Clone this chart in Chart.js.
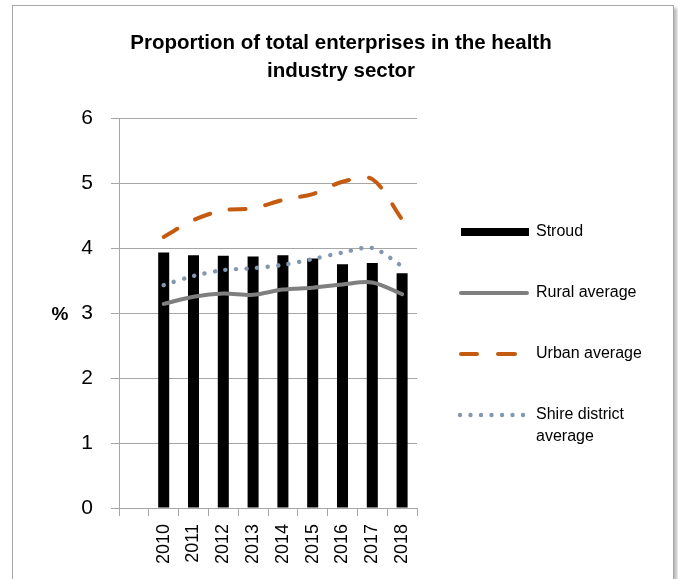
<!DOCTYPE html>
<html>
<head>
<meta charset="utf-8">
<script src="https://cdn.jsdelivr.net/npm/chart.js@4"></script>
<style>
  html, body { margin: 0; padding: 0; background: #fff; }
  #frame { position: absolute; left: 12px; top: 5px; width: 660px; height: 620px;
           border: 1px solid #a6a6a6; box-shadow: 3px 3px 3px #bbb; }
  #wrap { position: absolute; left: 0; top: 0; width: 678px; height: 579px; }
</style>
</head>
<body>
<div id="frame"></div>
<div id="wrap"><canvas id="c" width="678" height="579"></canvas></div>
<script>
// data
const years = ['', '2010', '2011', '2012', '2013', '2014', '2015', '2016', '2017', '2018'];
const stroud = [null, 3.93, 3.89, 3.88, 3.87, 3.89, 3.84, 3.75, 3.77, 3.61];
const rural  = [null, 3.14, 3.25, 3.30, 3.28, 3.36, 3.39, 3.44, 3.47, 3.29];
const urban  = [null, 4.17, 4.43, 4.58, 4.61, 4.74, 4.83, 5.02, 5.06, 4.44];
const shire  = [null, 3.43, 3.57, 3.66, 3.69, 3.74, 3.83, 3.93, 4.00, 3.72];
const yTicks = [0, 1, 2, 3, 4, 5, 6];
const titleLines = ['Proportion of total enterprises in the health', 'industry sector'];

const gridColor = '#a6a6a6';
const font = '"Liberation Sans", Arial, sans-serif';

// title, legend and "%" label drawn by hand so they sit like the original
const sideLegend = {
  id: 'sideLegend',
  afterDraw(chart) {
    const ctx = chart.ctx;
    ctx.save();
    ctx.fillStyle = '#000';
    ctx.textBaseline = 'middle';

    ctx.font = 'bold 20.5px ' + font;
    ctx.textAlign = 'center';
    ctx.fillText(titleLines[0], 341, 43);
    ctx.fillText(titleLines[1], 341, 71);

    ctx.font = '16px ' + font;
    ctx.textAlign = 'left';
    const tx = 536;

    ctx.fillRect(461, 228, 68, 8);
    ctx.fillText('Stroud', tx, 232);

    ctx.lineCap = 'round';
    ctx.strokeStyle = '#7f7f7f';
    ctx.lineWidth = 4;
    ctx.beginPath(); ctx.moveTo(461, 293); ctx.lineTo(527, 293); ctx.stroke();
    ctx.fillText('Rural average', tx, 293);

    ctx.strokeStyle = '#c55a11';
    ctx.beginPath(); ctx.moveTo(461, 354); ctx.lineTo(477, 354); ctx.stroke();
    ctx.beginPath(); ctx.moveTo(498, 354); ctx.lineTo(515, 354); ctx.stroke();
    ctx.fillText('Urban average', tx, 354);

    ctx.fillStyle = '#8497b0';
    for (let x = 460; x <= 528; x += 10.5) {
      ctx.beginPath(); ctx.arc(x, 415, 2.2, 0, Math.PI * 2); ctx.fill();
    }
    ctx.fillStyle = '#000';
    ctx.fillText('Shire district', tx, 415);
    ctx.fillText('average', tx, 437);

    ctx.font = 'bold 19px ' + font;
    ctx.textAlign = 'center';
    ctx.fillText('%', 60, 315);
    ctx.restore();
  }
};

new Chart(document.getElementById('c'), {
  type: 'bar',
  data: {
    labels: years,
    datasets: [
      { type: 'line', label: 'Rural average', data: rural, borderColor: '#7f7f7f', borderWidth: 4,
        borderCapStyle: 'round', pointRadius: 0, tension: 0.3, order: 1 },
      { type: 'line', label: 'Urban average', data: urban, borderColor: '#c55a11', borderWidth: 4,
        borderDash: [16, 20], borderCapStyle: 'round', pointRadius: 0, tension: 0.3, order: 1 },
      { type: 'line', label: 'Shire district average', data: shire, borderColor: '#8497b0', borderWidth: 4.4,
        borderDash: [0.1, 10.5], borderCapStyle: 'round', pointRadius: 0, tension: 0.3, order: 1 },
      { label: 'Stroud', data: stroud, backgroundColor: '#000', barPercentage: 0.37,
        categoryPercentage: 1, order: 5 }
    ]
  },
  options: {
    responsive: false,
    animation: false,
    layout: { padding: { left: 0, right: 261, top: 118, bottom: 0 } },
    plugins: {
      legend: { display: false },
      tooltip: { enabled: false }
    },
    scales: {
      x: {
        afterFit: s => { s.height = 71; },
        grid: { offset: true, drawOnChartArea: false, color: gridColor, tickLength: 8 },
        border: { color: gridColor },
        ticks: { color: '#000', minRotation: 90, maxRotation: 90, padding: 8,
                 font: { family: font, size: 18 } }
      },
      y: {
        min: 0, max: 6,
        afterFit: s => { s.width = 119; },
        afterBuildTicks: s => { s.ticks = yTicks.map(v => ({ value: v })); },
        grid: { color: gridColor, tickLength: 8 },
        border: { color: gridColor },
        ticks: { color: '#000', padding: 18, font: { family: font, size: 21 } }
      }
    }
  },
  plugins: [sideLegend]
});
</script>
</body>
</html>
